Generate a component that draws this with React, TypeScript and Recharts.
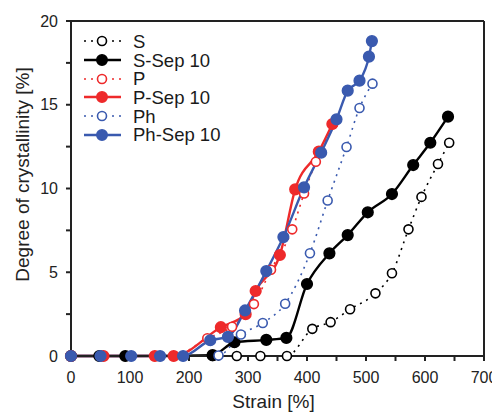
import React from 'react';
import { LineChart, Line, XAxis, YAxis, ReferenceLine } from 'recharts';

// Strain [%] and degree of crystallinity [%] per series
const sStrain = [0, 48, 92, 240, 281, 321, 366, 409, 440, 473, 516, 544, 572, 594, 622, 641];
const sValue = [0, 0, 0, 0, 0, 0, 0, 1.62, 2.02, 2.79, 3.74, 4.94, 7.56, 9.5, 11.46, 12.73];

const sSepStrain = [0, 48, 92, 240, 277, 331, 365, 400, 438, 469, 503, 544, 580, 609, 639];
const sSepValue = [0, 0, 0, 0.05, 0.82, 0.96, 1.08, 4.3, 6.13, 7.22, 8.58, 9.67, 11.4, 12.73, 14.29];

const pStrain = [0, 55, 142, 174, 231, 273, 310, 339, 375, 395, 415, 444];
const pValue = [0, 0, 0, 0, 1.06, 1.75, 3.1, 5.15, 7.56, 9.7, 11.6, 13.85];

const pSepStrain = [0, 55, 142, 174, 254, 296, 313, 354, 380, 420, 443];
const pSepValue = [0, 0, 0, 0, 1.72, 2.5, 3.88, 6.03, 9.95, 12.2, 13.85];

const phStrain = [0, 50, 102, 151, 190, 250, 288, 325, 363, 405, 435, 467, 489, 511];
const phValue = [0, 0, 0, 0, 0, 0.03, 1.28, 1.97, 3.12, 6.13, 9.28, 12.48, 14.81, 16.26];

const phSepStrain = [0, 50, 102, 151, 190, 236, 266, 295, 331, 360, 395, 424, 450, 469, 489, 505, 510];
const phSepValue = [0, 0, 0, 0, 0, 0.94, 1.14, 2.72, 5.07, 7.1, 10.07, 12.14, 14.13, 15.84, 16.44, 17.87, 18.8];

const seriesNames = ['S', 'S-Sep 10', 'P', 'P-Sep 10', 'Ph', 'Ph-Sep 10'];
const xTicks = [0, 50, 100, 150, 200, 250, 300, 350, 400, 450, 500, 550, 600, 650, 700];
const yTicks = [0, 2.5, 5, 7.5, 10, 12.5, 15, 17.5, 20];
const xTitle = 'Strain [%]';
const yTitle = 'Degree of crystallinity [%]';

const BLACK = '#000000';
const RED = '#ee2a2b';
const BLUE = '#3a5aaf';
const FONT = '"Liberation Sans", Arial, sans-serif';
const TEXT = '#222222';

if (typeof document !== 'undefined') {
  document.documentElement.style.overflow = 'hidden';
  document.body.style.overflow = 'hidden';
}

const zip = (xs: number[], ys: number[]) => xs.map((x, i) => ({ x, y: ys[i] }));

const series = [
  { name: seriesNames[0], data: zip(sStrain, sValue), color: BLACK, open: true },
  { name: seriesNames[1], data: zip(sSepStrain, sSepValue), color: BLACK, open: false },
  { name: seriesNames[2], data: zip(pStrain, pValue), color: RED, open: true },
  { name: seriesNames[3], data: zip(pSepStrain, pSepValue), color: RED, open: false },
  { name: seriesNames[4], data: zip(phStrain, phValue), color: BLUE, open: true },
  { name: seriesNames[5], data: zip(phSepStrain, phSepValue), color: BLUE, open: false },
];

const LegendBox = () => (
  <div
    style={{
      position: 'absolute',
      left: 76,
      top: 24,
      fontFamily: FONT,
      fontSize: 18.5,
      color: '#1a1a1a',
      pointerEvents: 'none',
    }}
  >
    {series.map((s) => (
      <div key={s.name} style={{ display: 'flex', alignItems: 'center', height: 18.7, overflow: 'visible' }}>
        <svg width={49} height={18} style={{ display: 'block' }}>
          <line
            x1={0}
            x2={37}
            y1={9}
            y2={9}
            stroke={s.color}
            strokeWidth={s.open ? 1.6 : 2.6}
            strokeDasharray={s.open ? '2 5' : undefined}
          />
          <circle
            cx={18}
            cy={9}
            r={s.open ? 4.5 : 5.2}
            fill={s.open ? '#fff' : s.color}
            stroke={s.color}
            strokeWidth={1.6}
          />
        </svg>
        <span style={{ display: 'block', lineHeight: '17px', height: 17, whiteSpace: 'nowrap' }}>{s.name}</span>
      </div>
    ))}
  </div>
);

const XTitle = (props: any) => {
  const vb = props.viewBox || { x: 0, y: 0, width: 0, height: 0 };
  return (
    <text
      x={vb.x + vb.width / 2 - 4}
      y={vb.y + vb.height - 4}
      textAnchor="middle"
      fontSize={19}
      fill={TEXT}
      fontFamily={FONT}
    >
      {xTitle}
    </text>
  );
};

const YTitle = (props: any) => {
  const vb = props.viewBox || { x: 0, y: 0, width: 0, height: 0 };
  const cx = vb.x + 21;
  const cy = vb.y + vb.height / 2 - 14;
  return (
    <text
      x={cx}
      y={cy}
      transform={`rotate(-90 ${cx} ${cy})`}
      textAnchor="middle"
      fontSize={19}
      fill={TEXT}
      fontFamily={FONT}
    >
      {yTitle}
    </text>
  );
};

export default function App() {
  return (
    <div style={{ position: 'relative', width: 492, height: 404 }}>
      <LineChart
        width={492}
        height={404}
        margin={{ top: 13, right: 16, bottom: 0, left: 0 }}
        style={{ overflow: 'visible' }}
      >
        <XAxis
          dataKey="x"
          type="number"
          domain={[0, 700]}
          ticks={xTicks}
          allowDuplicatedCategory={false}
          tickFormatter={(v: number) => (v % 100 === 0 ? String(v) : '')}
          tick={{ fontSize: 16, fill: TEXT, fontFamily: FONT }}
          tickSize={5}
          tickMargin={11}
          height={56}
          stroke="#222"
          strokeWidth={2}
          label={<XTitle />}
        />
        <YAxis
          type="number"
          domain={[0, 20]}
          ticks={yTicks}
          tickFormatter={(v: number) => (v % 5 === 0 ? String(v) : '')}
          tick={{ fontSize: 16, fill: TEXT, fontFamily: FONT }}
          tickSize={5}
          tickMargin={8}
          width={63}
          stroke="#222"
          strokeWidth={2}
          label={<YTitle />}
        />
        <ReferenceLine y={20} stroke="#222" strokeWidth={2} />
        <ReferenceLine x={700} stroke="#222" strokeWidth={2} />
        {series.map((s) => (
          <Line
            key={s.name}
            name={s.name}
            data={s.data}
            dataKey="y"
            type="monotone"
            stroke={s.color}
            strokeWidth={s.open ? 1.6 : 2.4}
            strokeDasharray={s.open ? '2 5' : undefined}
            dot={{
              r: s.open ? 4.5 : 5.3,
              fill: s.open ? '#fff' : s.color,
              stroke: s.color,
              strokeWidth: 1.6,
              strokeDasharray: '',
            }}
            isAnimationActive={false}
          />
        ))}
      </LineChart>
      <LegendBox />
    </div>
  );
}
